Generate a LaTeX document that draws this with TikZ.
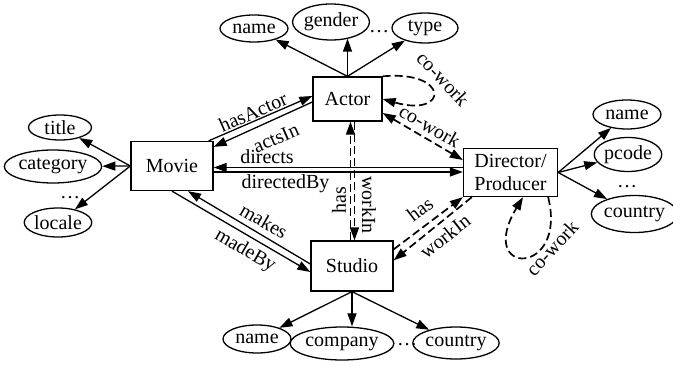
\documentclass[tikz,border=0pt]{standalone}
\usepackage{fontspec}
\setmainfont{Liberation Serif}
\usetikzlibrary{shapes.geometric,arrows.meta}
\begin{document}
\begin{tikzpicture}[x=1pt,y=-1pt,
  every node/.style={font=\fontsize{20}{23}\selectfont, inner sep=0pt},
  ent/.style={draw, line width=1.3pt, rectangle},
  att/.style={draw, line width=1.3pt, ellipse},
  arr/.style={line width=1.3pt, -{Triangle[length=13pt,width=9pt]}},
  darr/.style={arr, line width=1.7pt, dash pattern=on 8pt off 4pt},
  dbl/.style={line width=1.7pt, {Triangle[length=13pt,width=9pt]}-{Triangle[length=13pt,width=9pt]}, dash pattern=on 8pt off 4pt}]
\useasboundingbox (0,0) rectangle (673,366);

% entities
\node[ent, minimum width=69pt, minimum height=44pt] (actor) at (347.5,99) {Actor};
\node[ent, minimum width=82pt, minimum height=49pt] (movie) at (172,166) {Movie};
\node[ent, minimum width=94pt, minimum height=48pt, align=center] (director) at (510.5,172.5) {Director/\\Producer};
\node[ent, minimum width=82pt, minimum height=50pt] (studio) at (352,266) {Studio};

% actor attributes
\node[att, minimum width=68pt, minimum height=27pt] (aname) at (254,28.5) {name};
\node[att, minimum width=72pt, minimum height=36pt] (agender) at (331,22) {gender};
\node[att, minimum width=66pt, minimum height=30pt] (atype) at (425,28) {type};
\node[anchor=base] (adots) at (379,33) {\ldots};

% movie attributes
\node[att, minimum width=63pt, minimum height=25pt] (mtitle) at (60,127.5) {title};
\node[att, minimum width=88pt, minimum height=33pt] (mcat) at (53,166.5) {category};
\node[anchor=base] (mdots) at (70,199) {\ldots};
\node[att, minimum width=67pt, minimum height=29pt] (mlocale) at (58,222.5) {locale};

% director attributes
\node[att, minimum width=68pt, minimum height=29pt] (dname) at (627,114.5) {name};
\node[att, minimum width=67pt, minimum height=34pt] (dpcode) at (628,154.5) {pcode};
\node[anchor=base] (ddots) at (627,188) {\ldots};
\node[att, minimum width=76pt, minimum height=37pt] (dcountry) at (634.5,214) {country};

% studio attributes
\node[att, minimum width=68pt, minimum height=28pt] (sname) at (257,339) {name};
\node[att, minimum width=94pt, minimum height=33pt] (scompany) at (342,343.5) {company};
\node[anchor=base] (sdots) at (407,346) {\ldots};
\node[att, minimum width=71pt, minimum height=32pt] (scountry) at (456,343) {country};

% attribute arrows
\draw[arr] (actor.north) -- (aname);
\draw[arr] (actor.north) -- ([yshift=2pt]actor.north |- agender.south);
\draw[arr] (actor.north) -- (atype);
\draw[arr] (movie.west) -- (mtitle);
\draw[arr] (movie.west) -- (mcat);
\draw[arr] (movie.west) -- (mlocale);
\draw[arr] (director.east) -- (dname);
\draw[arr] (director.east) -- (dpcode);
\draw[arr] (director.east) -- (dcountry);
\draw[arr] (studio.south) -- (sname);
\draw[arr] (studio.south) -- (studio.south |- scompany.north);
\draw[arr] (studio.south) -- (scountry);

% Movie - Actor
\draw[arr] ([xshift=-5pt]movie.north east) -- ([yshift=3pt]actor.west);
\draw[arr] ([yshift=-3pt]actor.west) -- ([yshift=-6pt]movie.north east);
\node[rotate=23.5] (lhasactor) at (253,112) {hasActor};
\node[rotate=23.5] (lactsin) at (276,138) {actsIn};

% Movie - Director
\draw[arr] ([yshift=5pt]director.west) -- ([yshift=5pt]director.west -| movie.east);
\draw[arr] ([yshift=0.5pt]director.west -| movie.east) -- ([yshift=0.5pt]director.west);
\node (ldirects) at (267,157) {directs};
\node (ldirectedby) at (285.5,184) {directedBy};

% Movie - Studio
\draw[arr] ([yshift=2pt]studio.west) -- ([xshift=16pt]movie.south);
\draw[arr] (movie.south) -- ([yshift=-6pt]studio.west);
\node[rotate=-30] (lmakes) at (264,221) {makes};
\node[rotate=-30] (lmadeby) at (245,251) {madeBy};

% Actor - Studio
\draw[darr] ([xshift=-1.5pt]studio.north) -- ([xshift=-1.5pt]studio.north |- actor.south);
\draw[darr] ([xshift=2.5pt]studio.north |- actor.south) -- ([xshift=2.5pt]studio.north);
\node[rotate=90] (lhas1) at (339,200) {has};
\node[rotate=-90] (lworkin1) at (369,205) {workIn};

% Actor - Director co-work
\draw[dbl] ([yshift=-14pt]actor.east) -- ([yshift=12.5pt]director.west);
\node[rotate=-30] (lcowork1) at (430,126) {co-work};

% Actor self loop
\draw[darr] (actor.north east) .. controls (450,70) and (449,118) .. (actor.east);
\node[rotate=-47] (lcowork2) at (443,79) {co-work};

% Director self loop
\draw[darr] ([xshift=-10pt]director.south east) .. controls (568,277) and (475,277) .. ([xshift=12.5pt]director.south);
\node[rotate=47] (lcowork3) at (552,248) {co-work};

% Studio - Director
\draw[darr] ([yshift=-9pt]studio.north east) -- (director.south west);
\draw[darr] ([xshift=9pt]director.south west) -- ([yshift=-20pt]studio.north east);
\node[rotate=37] (lhas2) at (420,209) {has};
\node[rotate=38] (lworkin2) at (445,236) {workIn};
\end{tikzpicture}
\end{document}
